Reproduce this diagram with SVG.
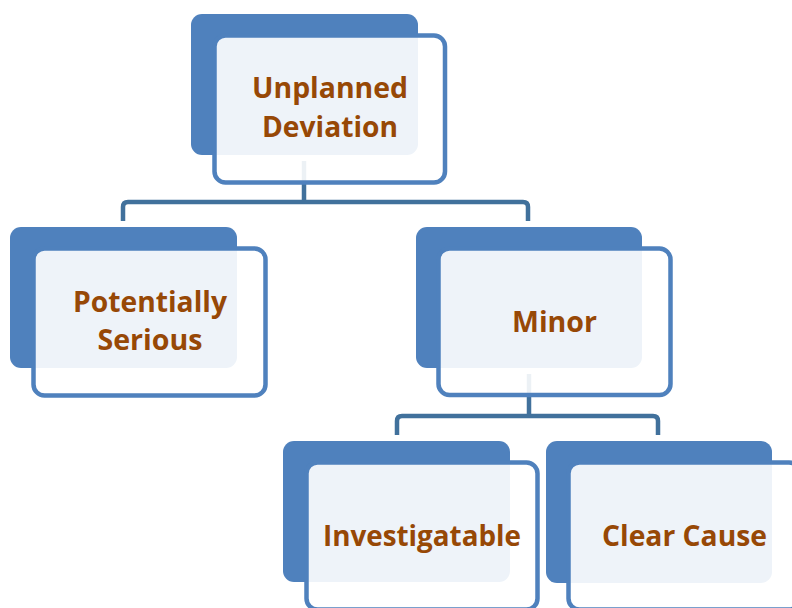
<svg xmlns="http://www.w3.org/2000/svg" width="792" height="608" viewBox="0 0 792 608">
<style>
.back{fill:#4F81BD}
.front{fill:#FFFFFF;fill-opacity:0.9;stroke:#4F81BD;stroke-width:4.5}
.conn{fill:none;stroke:#41719C;stroke-width:4.5;stroke-linejoin:round}
.lbl{font-family:"Open Sans","Noto Sans",sans-serif;font-weight:bold;font-size:29px;fill:#974806;text-anchor:middle}
</style>
<rect width="792" height="608" fill="#FFFFFF"/>
<g id="connectors">
<path class="conn" d="M304 161 V202 M123 221 V207 Q123 202 128 202 H523 Q528 202 528 207 V221"/>
<path class="conn" d="M529 374 V416 M397 435 V421 Q397 416 402 416 H653 Q658 416 658 421 V435"/>
</g>
<g id="node-unplanned">
<rect class="back" x="191" y="14" width="227" height="141" rx="11"/>
<rect class="front" x="214.5" y="35.5" width="230.5" height="147" rx="11"/>
<text class="lbl" x="330" y="98" textLength="156" lengthAdjust="spacingAndGlyphs">Unplanned</text>
<text class="lbl" x="330" y="137" textLength="136" lengthAdjust="spacingAndGlyphs">Deviation</text>
</g>
<g id="node-potentially">
<rect class="back" x="10" y="227" width="227" height="141" rx="11"/>
<rect class="front" x="33.5" y="248.5" width="232" height="147" rx="11"/>
<text class="lbl" x="150" y="312" textLength="154" lengthAdjust="spacingAndGlyphs">Potentially</text>
<text class="lbl" x="150" y="350" textLength="105" lengthAdjust="spacingAndGlyphs">Serious</text>
</g>
<g id="node-minor">
<rect class="back" x="416" y="227" width="226" height="141" rx="11"/>
<rect class="front" x="438.5" y="248.5" width="232" height="146.5" rx="11"/>
<text class="lbl" x="554.5" y="332" textLength="85" lengthAdjust="spacingAndGlyphs">Minor</text>
</g>
<g id="node-investigatable">
<rect class="back" x="283" y="441" width="227" height="141" rx="11"/>
<rect class="front" x="306.5" y="462.5" width="231" height="147" rx="11"/>
<text class="lbl" x="422" y="546" textLength="198" lengthAdjust="spacingAndGlyphs">Investigatable</text>
</g>
<g id="node-clearcause">
<rect class="back" x="546" y="441" width="226" height="142" rx="11"/>
<rect class="front" x="568.5" y="462.5" width="231.5" height="147" rx="11"/>
<text class="lbl" x="684.5" y="546" textLength="165" lengthAdjust="spacingAndGlyphs">Clear Cause</text>
</g>
</svg>
